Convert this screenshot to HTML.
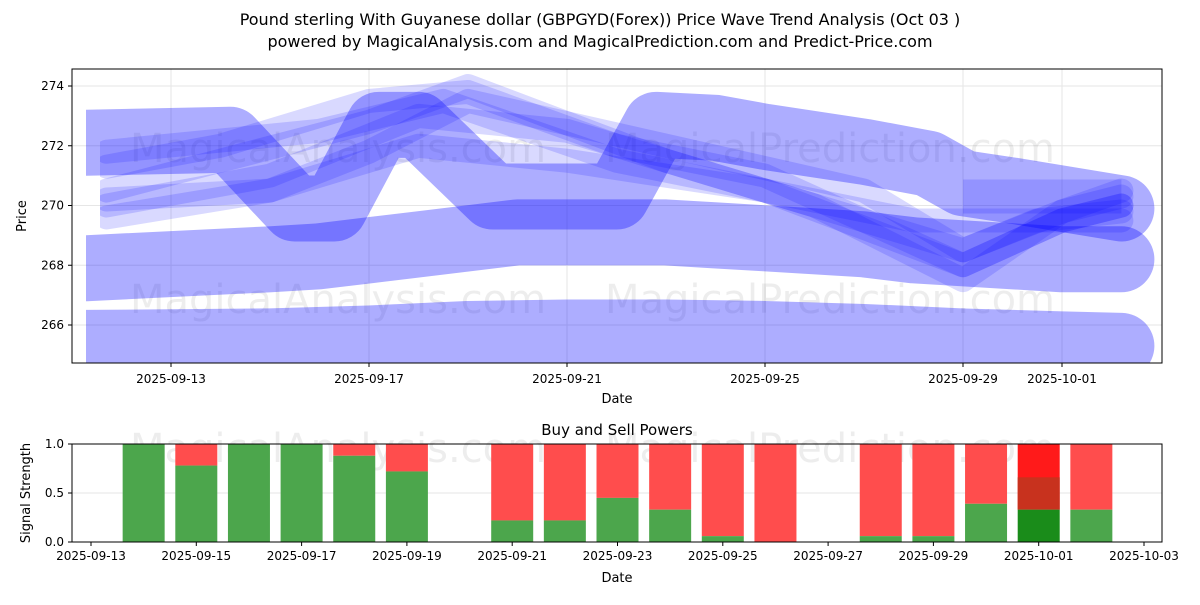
<!DOCTYPE html>
<html><head><meta charset="utf-8"><style>
body{margin:0;background:#fff;font-family:"Liberation Sans","DejaVu Sans",sans-serif}
svg text{font-family:"DejaVu Sans","Liberation Sans",sans-serif}
</style></head><body>
<svg id="c" width="1200" height="600" xmlns="http://www.w3.org/2000/svg">
<text x="600" y="25" text-anchor="middle" font-size="16">Pound sterling With Guyanese dollar (GBPGYD(Forex)) Price Wave Trend Analysis (Oct 03 )</text>
<text x="600" y="47" text-anchor="middle" font-size="16">powered by MagicalAnalysis.com and MagicalPrediction.com and Predict-Price.com</text>
<defs><clipPath id="cp1"><rect x="86" y="69" width="1076" height="294"/></clipPath><clipPath id="cp3"><rect x="100" y="69" width="1062" height="294"/></clipPath><clipPath id="cp2"><rect x="72" y="444" width="1090" height="98"/></clipPath></defs>
<g id="topPanel"></g>
<g id="botPanel"></g>
</svg>
<script>
// ---- price chart data (x = days since 2025-09-13, y = price) ----
const bandDays = [
 [-1.72,2,4,6,8,10,12,14,16,18,19.2],
 [-1.72,2,3,4,5,6,7,8,9,10,11,12,13,14,15,16,17,18,19.2],
 [-1.72,1.2,2.5,3.3,4.2,5,6.5,8,9,9.8,11,12,14,15.3,16,17,19.2]
];
const bandVals = [
 [265.4,265.45,265.55,265.7,265.75,265.75,265.7,265.6,265.45,265.35,265.3],
 [267.9,268.2,268.3,268.5,268.7,268.9,269.1,269.1,269.1,269.1,269.0,268.9,268.8,268.7,268.5,268.4,268.3,268.2,268.2],
 [272.1,272.2,269.9,269.9,272.7,272.7,270.3,270.3,270.3,272.7,272.6,272.3,271.8,271.4,270.75,270.5,269.9]
];
const lineDays = [
 [-1.3,1,4,6,9,12,16,18,19.2],
 [-1.3,2,5,8,11,16,18,19.2],
 [-1.3,1,4,6,10,13,16,18,19.2],
 [-1.3,3,5.5,9,15,19.2],
 [-1.3,2,5,8,12,16,18,19.2],
 [-1.3,2,4,6,10,14,16,17.5,19.2],
 [16,17,19.2]
];
const lineVals = [
 [271.3,272.0,273.5,273.8,272.0,271.0,268.0,269.5,270.0],
 [270.0,271.0,273.0,272.5,271.0,268.5,269.8,270.3],
 [270.5,271.5,272.8,274.0,271.5,270.0,267.5,269.8,270.5],
 [271.8,272.5,273.5,271.5,269.5,269.5],
 [270.2,270.5,272.0,271.5,270.5,268.0,269.5,270.0],
 [269.6,270.5,271.8,273.5,272.0,270.5,268.5,269.5,269.8],
 [270.3,270.3,270.3]
];
const yTicks=[266,268,270,272,274];
const xTickLabels=["2025-09-13","2025-09-17","2025-09-21","2025-09-25","2025-09-29","2025-10-01"];
const xTickDays=[0,4,8,12,16,18];
// ---- signal chart data ----
const sigDays=[1,2,3,4,5,6,8,9,10,11,12,13,15,16,17,18,19];
const buyVals=[1.0,0.78,1.0,1.0,0.88,0.72,0.22,0.22,0.45,0.33,0.06,0.0,0.06,0.06,0.39,0.33,0.33];
const sigTickLabels=["2025-09-13","2025-09-15","2025-09-17","2025-09-19","2025-09-21","2025-09-23","2025-09-25","2025-09-27","2025-09-29","2025-10-01","2025-10-03"];
const sigTickDays=[0,2,4,6,8,10,12,14,16,18,20];
const sigY=[0,0.5,1.0];

const NS="http://www.w3.org/2000/svg";
function mk(tag,at,parent){const e=document.createElementNS(NS,tag);for(const k in at)e.setAttribute(k,at[k]);parent.appendChild(e);return e;}
const X=d=>171+d*49.5, Y=v=>325-(v-266)*29.875;
const topG=document.getElementById('topPanel');
const L=72,R=1162,T=69,B=363;
mk('rect',{x:L,y:T,width:R-L,height:B-T,fill:'#fff'},topG);
const g=mk('g',{},topG);
yTicks.forEach(v=>{const l=mk('line',{x1:L,x2:R,y1:Y(v),y2:Y(v),stroke:'#e6e6e6'},g);
 
 
 const t=mk('text',{x:L-8,y:Y(v)+4,'text-anchor':'end','font-size':12},topG);t.textContent=v;
 
 
 mk('line',{x1:L-4,x2:L,y1:Y(v),y2:Y(v),stroke:'#000'},topG);});
xTickDays.forEach((d,i)=>{mk('line',{x1:X(d),x2:X(d),y1:T,y2:B,stroke:'#e6e6e6'},g);mk('line',{x1:X(d),x2:X(d),y1:B,y2:B+4,stroke:'#000'},topG);
 const t=mk('text',{x:X(d),y:B+20,'text-anchor':'middle','font-size':12},topG);t.textContent=xTickLabels[i];
 
 });
const wm=mk('g',{fill:'#000','fill-opacity':0.07,'font-size':40},topG);
[[130,162,'MagicalAnalysis.com'],[605,162,'MagicalPrediction.com'],[130,313,'MagicalAnalysis.com'],[605,313,'MagicalPrediction.com']].forEach(w=>{const t=mk('text',{x:w[0],y:w[1]},wm);t.textContent=w[2];
 
 });
const cg=mk('g',{'clip-path':'url(#cp1)'},topG);
const cg3=mk('g',{'clip-path':'url(#cp3)'},topG);
function pts(ds,vs){return ds.map((d,i)=>X(d)+','+Y(vs[i])).join(' ');}
bandDays.forEach((ds,i)=>{const p=mk('polyline',{points:pts(ds,bandVals[i]),fill:'none',stroke:'#0000ff','stroke-opacity':0.32,'stroke-width':66,'stroke-linejoin':'round','stroke-linecap':'round'},cg);
 
 });
lineDays.forEach((ds,i)=>{const p=mk('polyline',{points:pts(ds,lineVals[i]),fill:'none',stroke:'#0000ff','stroke-opacity':0.15,'stroke-width':i==6?34:24,'stroke-linejoin':'round','stroke-linecap':i==6?'butt':'round'},cg3);
 
 });
mk('rect',{x:L,y:T,width:R-L,height:B-T,fill:'none',stroke:'#000'},topG);
let tt=mk('text',{x:617,y:403,'text-anchor':'middle','font-size':13},topG);tt.textContent='Date';


tt=mk('text',{x:26,y:216,'text-anchor':'middle','font-size':13,transform:'rotate(-90 26 216)'},topG);tt.textContent='Price';



// bottom
const botG=document.getElementById('botPanel');
const BL=72,BR=1162,BT=444,BB=542;
const SX=d=>91+d*52.65, SY=v=>BB-v*98;
tt=mk('text',{x:617,y:435,'text-anchor':'middle','font-size':15},botG);tt.textContent='Buy and Sell Powers';


sigY.forEach(v=>{mk('line',{x1:BL,x2:BR,y1:SY(v),y2:SY(v),stroke:'#e6e6e6'},botG);mk('line',{x1:BL-4,x2:BL,y1:SY(v),y2:SY(v),stroke:'#000'},botG);
 const t=mk('text',{x:BL-8,y:SY(v)+4,'text-anchor':'end','font-size':12},botG);t.textContent=v.toFixed(1);
 
 });
const wm2=mk('g',{fill:'#000','fill-opacity':0.07,'font-size':40},botG);
[[130,462,'MagicalAnalysis.com'],[605,462,'MagicalPrediction.com']].forEach(w=>{const t=mk('text',{x:w[0],y:w[1]},wm2);t.textContent=w[2];
 
 });
const bg=mk('g',{'clip-path':'url(#cp2)'},botG);
sigDays.forEach((d,i)=>{const x=SX(d)-21,b=buyVals[i];
 const special=(i==15);
 const r=mk('rect',{x:x,y:SY(1),width:42,height:SY(b)-SY(1),fill:special?'#ff1a1a':'#ff4d4d'},bg);
 
 
 if(special){const m=mk('rect',{x:x,y:SY(2*b),width:42,height:SY(b)-SY(2*b),fill:'#c8321e'},bg);
  
  }
 const gr=mk('rect',{x:x,y:SY(b),width:42,height:SY(0)-SY(b),fill:special?'#1a8c1a':'#4ca64c'},bg);
 
 });
sigTickDays.forEach((d,i)=>{mk('line',{x1:SX(d),x2:SX(d),y1:BB,y2:BB+4,stroke:'#000'},botG);
 const t=mk('text',{x:SX(d),y:BB+18,'text-anchor':'middle','font-size':12},botG);t.textContent=sigTickLabels[i];
 
 });
mk('rect',{x:BL,y:BT,width:BR-BL,height:BB-BT,fill:'none',stroke:'#000'},botG);
tt=mk('text',{x:617,y:582,'text-anchor':'middle','font-size':13},botG);tt.textContent='Date';


tt=mk('text',{x:30,y:493,'text-anchor':'middle','font-size':13,transform:'rotate(-90 30 493)'},botG);tt.textContent='Signal Strength';


</script>
</body></html>
